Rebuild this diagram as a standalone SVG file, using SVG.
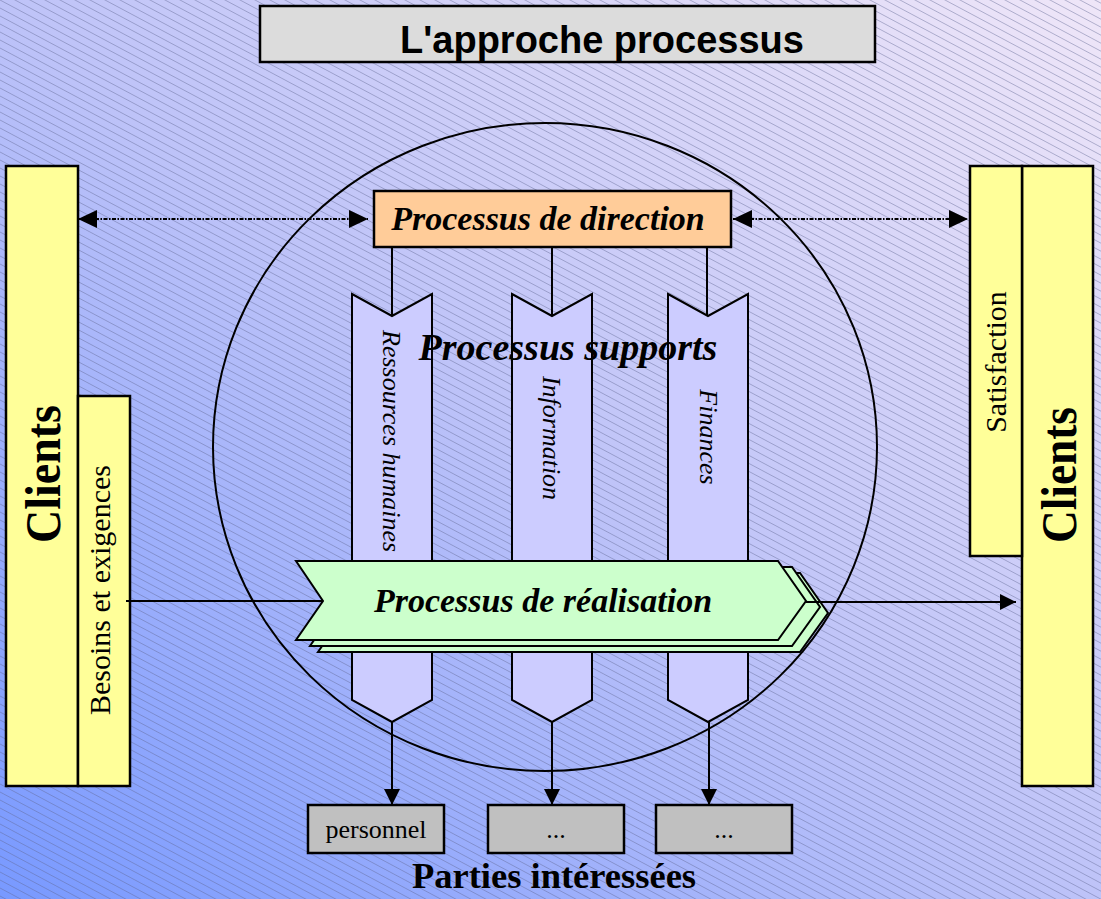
<svg xmlns="http://www.w3.org/2000/svg" width="1101" height="899" viewBox="0 0 1101 899">
<defs>
<linearGradient id="bg" x1="0" y1="1" x2="1" y2="0">
<stop offset="0" stop-color="#7899ff"/>
<stop offset="0.5" stop-color="#bec3f8"/>
<stop offset="1" stop-color="#efe6f8"/>
</linearGradient>
<pattern id="hatch" patternUnits="userSpaceOnUse" width="15" height="8">
<g stroke="#5f6490" stroke-width="0.8" stroke-opacity="0.55">
<line x1="-15" y1="-8" x2="30" y2="16"/>
<line x1="-15" y1="0" x2="15" y2="16"/>
<line x1="0" y1="-8" x2="30" y2="8"/>
</g>
</pattern>
<marker id="ah" markerUnits="userSpaceOnUse" markerWidth="16" markerHeight="16" refX="16" refY="8" orient="auto">
<path d="M0,0 L16,8 L0,16 Z" fill="#000"/>
</marker>
<marker id="ahd" markerUnits="userSpaceOnUse" markerWidth="19" markerHeight="18" refX="19" refY="9" orient="auto-start-reverse">
<path d="M0,0 L19,9 L0,18 Z" fill="#000"/>
</marker>
<style>
.box{stroke:#000;stroke-width:2.5}
.yel{fill:#ffff99}
.sup{fill:#ccccff;stroke:#000;stroke-width:2}
.real{fill:#ccffcc;stroke:#000;stroke-width:2;stroke-linejoin:miter}
.serif{font-family:"Liberation Serif","Times New Roman",serif;fill:#000}
.bi{font-weight:bold;font-style:italic}
.con{stroke:#000;stroke-width:2;fill:none}
.dot{stroke:#000;stroke-width:2.2;fill:none;stroke-dasharray:4 1.5 1.5 1.5}
</style>
</defs>
<rect width="1101" height="899" fill="url(#bg)"/>
<rect width="1101" height="899" fill="url(#hatch)"/>

<ellipse id="cercle" cx="545" cy="447" rx="332" ry="324" fill="none" stroke="#000" stroke-width="2"/>

<g id="titre">
<rect class="box" x="260" y="6" width="615" height="56" fill="#dcdcdc"/>
<text x="602" y="53" font-family="'Liberation Sans',Arial,sans-serif" font-weight="bold" font-size="38" text-anchor="middle">L'approche processus</text>
</g>

<g id="clients-gauche">
<rect class="box yel" x="6" y="166" width="72" height="620"/>
<text class="serif" font-weight="bold" font-size="50" text-anchor="middle" textLength="138" lengthAdjust="spacingAndGlyphs" transform="translate(60,474) rotate(-90)">Clients</text>
</g>
<g id="besoins">
<rect class="box yel" x="78" y="396" width="52" height="390"/>
<text class="serif" font-size="30" text-anchor="middle" transform="translate(110,590) rotate(-90)">Besoins et exigences</text>
</g>

<g id="clients-droite">
<rect class="box yel" x="1022" y="166" width="71" height="620"/>
<text class="serif" font-weight="bold" font-size="50" text-anchor="middle" textLength="136" lengthAdjust="spacingAndGlyphs" transform="translate(1076,475) rotate(-90)">Clients</text>
</g>
<g id="satisfaction">
<rect class="box yel" x="970" y="166" width="52" height="390"/>
<text class="serif" font-size="30" text-anchor="middle" transform="translate(1006,362) rotate(-90)">Satisfaction</text>
</g>

<g id="direction">
<rect class="box" x="374" y="191" width="357" height="56" fill="#ffcc99"/>
<text class="serif bi" x="548" y="230" font-size="34" text-anchor="middle">Processus de direction</text>
</g>

<g id="support-rh">
<polygon class="sup" points="352,294 392,316 432,294 432,700 392,722 352,700"/>
<text class="serif" font-style="italic" font-size="26" transform="translate(383,330) rotate(90)">Ressources humaines</text>
</g>
<g id="support-information">
<polygon class="sup" points="512,294 552,316 592,294 592,700 552,722 512,700"/>
<text class="serif" font-style="italic" font-size="26" text-anchor="middle" transform="translate(543,438) rotate(90)">Information</text>
</g>
<g id="support-finances">
<polygon class="sup" points="668,294 708,316 748,294 748,700 708,722 668,700"/>
<text class="serif" font-style="italic" font-size="26" text-anchor="middle" transform="translate(700,437) rotate(90)">Finances</text>
</g>
<g id="supports-titre">
<text class="serif bi" x="568" y="360" font-size="38" text-anchor="middle">Processus supports</text>
</g>

<g id="realisation">
<polygon class="real" points="318,573 800,573 828,613 800,652 318,652 345,613"/>
<polygon class="real" points="310,567 792,567 820,607 792,646 310,646 337,607"/>
<polygon class="real" points="296,561 778,561 806,601 778,640 296,640 323,601"/>
<text class="serif bi" x="543" y="612" font-size="34" text-anchor="middle">Processus de réalisation</text>
</g>

<g id="personnel">
<rect class="box" x="308" y="805" width="136" height="48" fill="#c0c0c0"/>
<text class="serif" x="376" y="838" font-size="26" text-anchor="middle">personnel</text>
</g>
<g id="partie-2">
<rect class="box" x="488" y="805" width="136" height="48" fill="#c0c0c0"/>
<text class="serif" x="556" y="838" font-size="26" text-anchor="middle">...</text>
</g>
<g id="partie-3">
<rect class="box" x="656" y="805" width="136" height="48" fill="#c0c0c0"/>
<text class="serif" x="724" y="838" font-size="26" text-anchor="middle">...</text>
</g>
<g id="parties-interessees">
<text class="serif" x="554" y="888" font-size="36.5" font-weight="bold" text-anchor="middle">Parties intéressées</text>
</g>

<g id="connecteurs">
<line class="dot" x1="78" y1="219" x2="368" y2="219" marker-start="url(#ahd)" marker-end="url(#ahd)"/>
<line class="dot" x1="733" y1="219" x2="968" y2="219" marker-start="url(#ahd)" marker-end="url(#ahd)"/>
<line class="con" x1="392" y1="247" x2="392" y2="316"/>
<line class="con" x1="552" y1="247" x2="552" y2="316"/>
<line class="con" x1="707" y1="247" x2="707" y2="316"/>
<line class="con" x1="392" y1="722" x2="392" y2="805" marker-end="url(#ah)"/>
<line class="con" x1="552" y1="722" x2="552" y2="805" marker-end="url(#ah)"/>
<line class="con" x1="709" y1="722" x2="709" y2="805" marker-end="url(#ah)"/>
<line class="con" x1="126" y1="601" x2="323" y2="601"/>
<line class="con" x1="806" y1="602" x2="1016" y2="602" marker-end="url(#ah)"/>
</g>
</svg>
